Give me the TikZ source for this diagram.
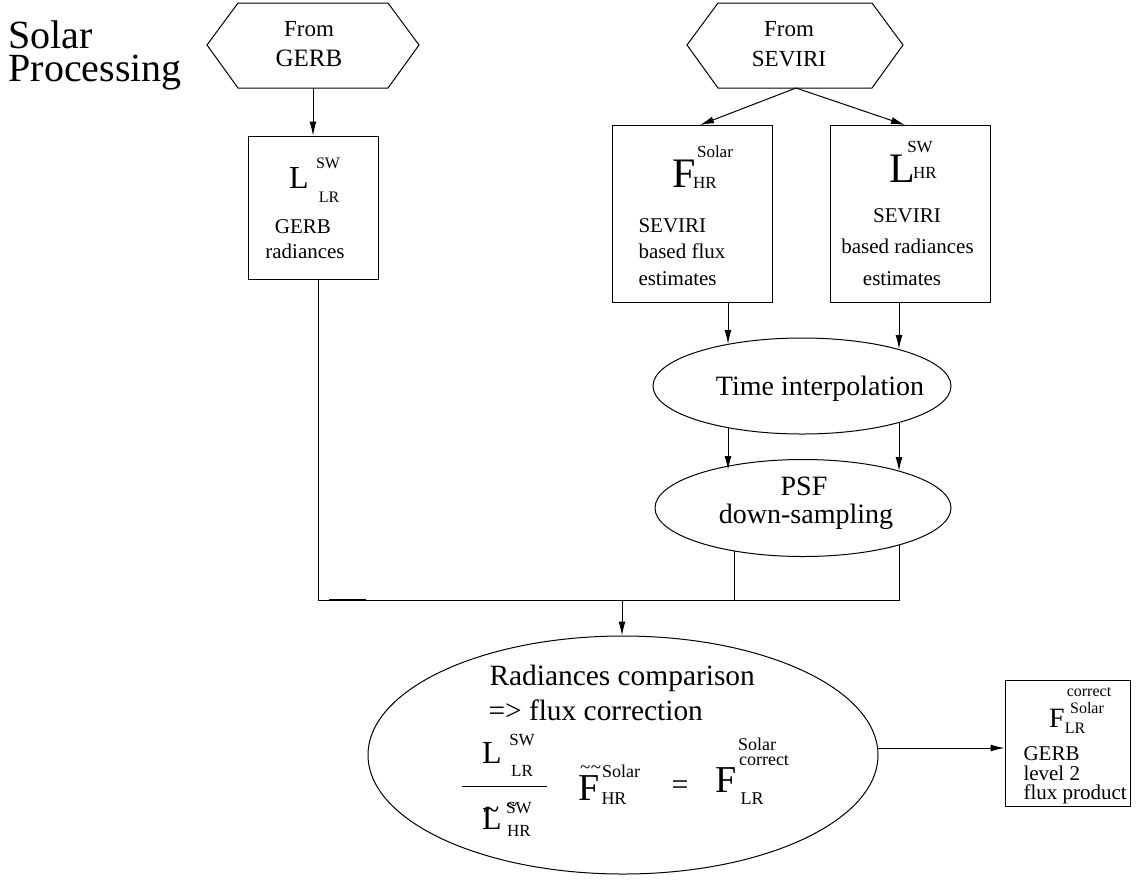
\documentclass[tikz,border=0pt]{standalone}
\usepackage{fontspec}
\setmainfont{Liberation Serif}
\usetikzlibrary{arrows.meta,shapes.geometric}

\newcommand{\fsz}[1]{\fontsize{#1}{#1}\selectfont}
% tilde set over the start of the next letter
\newcommand{\tildeon}[3]{\makebox[0pt][l]{\kern#1\raisebox{#2}[0pt][0pt]{#3}}}

\tikzset{
  txt/.style={inner sep=0pt, anchor=base},
  txtl/.style={inner sep=0pt, anchor=base west},
  body/.style={font=\fsz{10.5}},
  big/.style={font=\fsz{14.7}},
  idx/.style={font=\fsz{8}},
  procbox/.style={draw, rectangle, inner sep=0pt},
  procell/.style={draw, ellipse, inner sep=0pt},
  arr/.style={-{Latex[length=7pt,width=3.5pt]}}
}

\begin{document}
\begin{tikzpicture}[x=0.5pt,y=-0.5pt,line width=0.5pt]
  \useasboundingbox (0,0) rectangle (1136,880);

  % title
  \node[txtl,font=\fsz{20}] (title1) at (8,48) {Solar};
  \node[txtl,font=\fsz{20}] (title2) at (8,81) {Processing};

  % inputs
  \draw (207,45) -- (238,3) -- (388,3) -- (419,45) -- (388,88) -- (238,88) -- cycle;
  \coordinate (gerbS) at (313,88);
  \node[txt,font=\fsz{11.5}] (gerbA) at (309,36) {From};
  \node[txt,font=\fsz{12.5}] (gerbB) at (309,66) {GERB};

  \draw (687,45) -- (718,3) -- (872,3) -- (903,45) -- (872,88) -- (718,88) -- cycle;
  \coordinate (seviriS) at (796,88);
  \node[txt,font=\fsz{11.5}] (seviriA) at (789,36) {From};
  \node[txt,font=\fsz{11.5}] (seviriB) at (789,66) {SEVIRI};

  % boxes
  \node[procbox,minimum width=65pt,minimum height=71.5pt] (Llr) at (313,207.5) {};
  \node[txt,font=\fsz{16}] (LlrL) at (299,188) {L};
  \node[txt,idx] (LlrSup) at (328,168) {SW};
  \node[txt,idx] (LlrSub) at (329,202) {LR};
  \node[txt,body] (LlrT1) at (303,233) {GERB};
  \node[txt,body] (LlrT2) at (305,258) {radiances};

  \node[procbox,minimum width=80pt,minimum height=88.5pt] (Fhr) at (692,213.5) {};
  \node[txt,font=\fsz{21}] (FhrF) at (684,187) {F};
  \node[txt,font=\fsz{8.5}] (FhrSup) at (715,157) {Solar};
  \node[txt,font=\fsz{8.5}] (FhrSub) at (705,188) {HR};
  \node[txtl,body] (FhrT1) at (638,232) {SEVIRI};
  \node[txtl,body] (FhrT2) at (638,258) {based flux};
  \node[txtl,body] (FhrT3) at (638,285) {estimates};

  \node[procbox,minimum width=80pt,minimum height=88.5pt] (Lhr) at (910,213.5) {};
  \node[txt,font=\fsz{21}] (LhrL) at (902,182) {L};
  \node[txt,font=\fsz{8.5}] (LhrSup) at (920,152) {SW};
  \node[txt,font=\fsz{8.5}] (LhrSub) at (925,178) {HR};
  \node[txt,body] (LhrT1) at (907,222) {SEVIRI};
  \node[txt,body] (LhrT2) at (907.5,253) {based radiances};
  \node[txt,body] (LhrT3) at (902,285) {estimates};

  % processing
  \node[procell,minimum width=149pt,minimum height=48pt] (timeint) at (802,386) {};
  \node[txt,font=\fsz{14}] (timeintT) at (820,395) {Time interpolation};

  \node[procell,minimum width=148pt,minimum height=48.5pt] (psf) at (803,508) {};
  \node[txt,font=\fsz{14}] (psfT1) at (804,495) {PSF};
  \node[txt,font=\fsz{14}] (psfT2) at (806,523) {down-sampling};

  \node[procell,minimum width=255pt,minimum height=119pt] (radcomp) at (623,755) {};
  \node[txtl,big] (radT1) at (489,685) {Radiances comparison};
  \node[txtl,big] (radT2) at (488,720) {=> flux correction};
  \node[txt,font=\fsz{16}] (numL) at (492,763) {L};
  \node[txt,font=\fsz{8.5}] (numSup) at (522,745) {SW};
  \node[txt,font=\fsz{8.5}] (numSub) at (522,776) {LR};
  \draw (462,786) -- (547,786);
  \node[txt,font=\fsz{16}] (denL) at (492,829)
    {\tildeon{0.5pt}{5pt}{\fsz{15}\char"7E}L};
  \node[txt,font=\fsz{8.5}] (denSup) at (519,813)
    {\tildeon{0pt}{1pt}{\fsz{10}\char"7E}SW};
  \node[txt,font=\fsz{8.5}] (denSub) at (519,836) {HR};
  \node[txt,font=\fsz{19}] (midF) at (589,800)
    {\tildeon{0.8pt}{13.5pt}{\fsz{9.5}\char"7E\kern0.3pt\char"7E}F};
  \node[txt,font=\fsz{9}] (midSup) at (621,777) {Solar};
  \node[txt,font=\fsz{9}] (midSub) at (614,804) {HR};
  \node[anchor=center,inner sep=0pt,font=\fsz{15}] (eq) at (680,788) {=};
  \node[txt,font=\fsz{19}] (resF) at (726,792) {F};
  \node[txt,font=\fsz{9}] (resSup1) at (757,750) {Solar};
  \node[txt,font=\fsz{9}] (resSup2) at (764,765) {correct};
  \node[txt,font=\fsz{9}] (resSub) at (752,804) {LR};

  % output
  \node[procbox,minimum width=62.5pt,minimum height=63pt] (Fcor) at (1067.5,743) {};
  \node[txt,font=\fsz{14}] (FcorF) at (1057,727) {F};
  \node[txt,font=\fsz{8}] (FcorSup1) at (1089,696) {correct};
  \node[txt,font=\fsz{8}] (FcorSup2) at (1087,713) {Solar};
  \node[txt,font=\fsz{8}] (FcorSub) at (1075,733) {LR};
  \node[txtl,body] (FcorT1) at (1023,760) {GERB};
  \node[txtl,body] (FcorT2) at (1023,780) {level 2};
  \node[txtl,body] (FcorT3) at (1023,799) {flux product};

  % connectors
  \coordinate (fhrIn) at (700,125);
  \coordinate (lhrIn) at (905,125);
  \coordinate (tiA) at (728,344);
  \coordinate (tiB) at (899,349);
  \coordinate (tiC) at (728,428);
  \coordinate (tiD) at (899,423);
  \coordinate (psfA) at (728,470);
  \coordinate (psfB) at (899,471);
  \coordinate (psfC) at (734,551);
  \coordinate (psfD) at (899,545);
  \coordinate (joinL) at (318,600);
  \coordinate (joinR) at (899,600);
  \coordinate (joinM) at (622,600);
  \coordinate (radOut) at (878,748);

  \draw[arr] (gerbS) -- (Llr.north);
  \draw[arr] (seviriS) -- (fhrIn);
  \draw[arr] (seviriS) -- (lhrIn);
  \draw[arr] (tiA |- Fhr.south) -- (tiA);
  \draw[arr] (tiB |- Lhr.south) -- (tiB);
  \draw[arr] (tiC) -- (psfA);
  \draw[arr] (tiD) -- (psfB);
  \draw (joinL |- Llr.south) -- (joinL) -- (joinR) -- (psfD);
  \draw (psfC) -- (psfC |- joinL);
  \draw[line width=0.8pt] (329,600) -- (366,600);
  \draw[arr] (joinM) -- (joinM |- radcomp.north);
  \draw[arr] (radOut) -- (Fcor.west |- radOut);
\end{tikzpicture}
\end{document}
